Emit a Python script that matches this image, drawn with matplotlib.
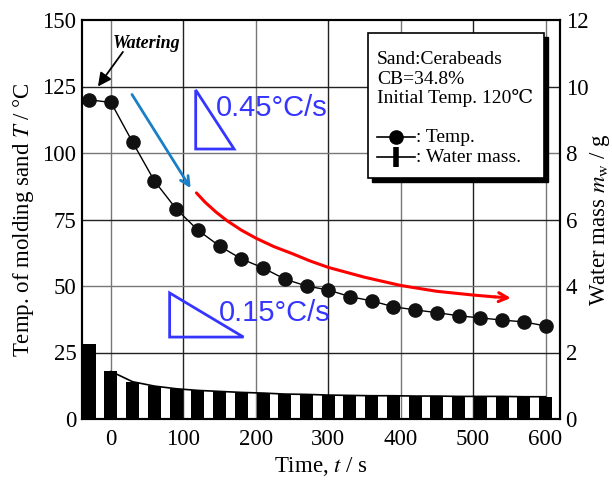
import matplotlib
matplotlib.use('Agg')
import matplotlib.pyplot as plt
from matplotlib.patches import Rectangle, Polygon
from matplotlib.lines import Line2D

# ---- data ----
time_s = [-30, 0, 30, 60, 90, 120, 150, 180, 210, 240, 270, 300,
          330, 360, 390, 420, 450, 480, 510, 540, 570, 600]
temp_c = [120, 119, 104, 89.5, 79, 71, 65, 60.2, 56.8, 52.6, 50, 48.5,
          46, 44.4, 42.2, 41, 40, 38.8, 38, 37.2, 36.5, 35]
water_g = [2.26, 1.43, 1.12, 0.99, 0.91, 0.86, 0.83, 0.80, 0.78, 0.75, 0.74,
           0.72, 0.71, 0.70, 0.70, 0.69, 0.69, 0.68, 0.68, 0.68, 0.67, 0.67]
x_ticks = [0, 100, 200, 300, 400, 500, 600]
temp_ticks = [0, 25, 50, 75, 100, 125, 150]
mass_ticks = [0, 2, 4, 6, 8, 10, 12]

red_t = [118, 130, 145, 160, 180, 200, 225, 250, 275, 300, 350, 400, 450, 500, 530, 552]
red_T = [85, 81.5, 77.8, 74.6, 71, 68, 64.8, 62.2, 59.4, 57, 53.3, 50.2, 48, 46.6, 45.9, 45.5]
blue_start = (29, 122)
blue_end = (110, 86.8)
tri1 = [(117, 123.7), (117, 101.5), (170, 101.5)]
tri2 = [(81, 47.4), (81, 30.8), (183, 30.8)]

serif = ['Liberation Serif', 'DejaVu Serif']
plt.rcParams['font.family'] = serif
plt.rcParams['mathtext.fontset'] = 'stix'

fig = plt.figure(figsize=(6.12, 4.8), dpi=100)
ax = fig.add_axes([82/612, 61/480, 478/612, 399/480])
ax2 = ax.twinx()

ax.set_xlim(-40, 620)
ax.set_ylim(0, 150)
ax2.set_ylim(0, 12)
ax.set_xticks(x_ticks)
ax.set_yticks(temp_ticks)
ax2.set_yticks(mass_ticks)

for a in (ax, ax2):
    for s in a.spines.values():
        s.set_linewidth(1.5)
ax.tick_params(axis='both', length=0, labelsize=16.5)
ax.tick_params(axis='y', pad=4)
ax.tick_params(axis='x', pad=7)
ax2.tick_params(axis='y', length=0, labelsize=16.5, pad=4)

# grid
for i, xv in enumerate(x_ticks):
    ax.axvline(xv, color='#222222' if i % 2 else '#777777', lw=1.0, zorder=0.5)
for i, yv in enumerate(temp_ticks[1:-1]):
    ax.axhline(yv, color='#222222' if i % 2 == 0 else '#777777', lw=1.0, zorder=0.5)

# water mass bars + line
ax2.bar(time_s, water_g, width=18, color='black', zorder=2)
ax2.plot(time_s[1:], water_g[1:], color='black', lw=1.2, zorder=2)

# temperature
ax.plot(time_s, temp_c, color='black', lw=1.0, marker='o', ms=9.5,
        mfc='#111111', mec='#111111', zorder=3)

# blue arrow
ax.annotate('', xy=blue_end, xytext=blue_start,
            arrowprops=dict(arrowstyle='->', color='#1a7fc4', lw=2,
                            mutation_scale=16, shrinkA=0, shrinkB=0))
# red arrow
ax.plot(red_t[:-1], red_T[:-1], color='red', lw=2.2, zorder=2.5,
        solid_capstyle='round', solid_joinstyle='round')
ax.annotate('', xy=(red_t[-1], red_T[-1]), xytext=(red_t[-2], red_T[-2]),
            arrowprops=dict(arrowstyle='->', color='red', lw=2.2,
                            mutation_scale=16, shrinkA=0, shrinkB=0))

# triangles and slope labels
ax.add_patch(Polygon(tri1, closed=True, fill=False, edgecolor='#3535ff', lw=2, zorder=4))
ax.add_patch(Polygon(tri2, closed=True, fill=False, edgecolor='#3535ff', lw=2, zorder=4))
ax.text(145, 117, '0.45°C/s', ha='left', va='center', fontsize=21,
        color='#3535ff', family=['Liberation Sans', 'DejaVu Sans'], zorder=5)
ax.text(149, 40, '0.15°C/s', ha='left', va='center', fontsize=21,
        color='#3535ff', family=['Liberation Sans', 'DejaVu Sans'], zorder=5)

# watering
ax.text(3, 141, 'Watering', ha='left', va='center', fontsize=13,
        fontweight='bold', style='italic')
ax.annotate('', xy=(-18, 125), xytext=(16.5, 138),
            arrowprops=dict(arrowstyle='-|>', color='black', lw=1.3,
                            mutation_scale=20, shrinkA=0, shrinkB=0))

# labels
ax.set_ylabel('Temp. of molding sand $T$ / °C', fontsize=16.5)
ax.yaxis.set_label_coords((24 - 82) / 478, 0.5)
ax.yaxis.label.set_va('center')
ax2.set_ylabel('Water mass $m_{\\mathrm{w}}$ / g', fontsize=16.5)
ax2.yaxis.set_label_coords((600 - 82) / 478, 0.5)
ax2.yaxis.label.set_va('center')
ax.set_xlabel('Time, $t$ / s', fontsize=16.5, labelpad=4)

# legend box
W, H = 612, 480
def fx(px):
    return px / W
def fy(py):
    return 1 - py / H
bx0, by0, bx1, by1 = 368, 33, 544, 178
fig.patches.append(Rectangle((fx(bx0 + 4), fy(by1 + 4)), fx(bx1 - bx0), (by1 - by0) / H,
                             transform=fig.transFigure, facecolor='black',
                             edgecolor='black', zorder=10))
fig.patches.append(Rectangle((fx(bx0), fy(by1)), fx(bx1 - bx0), (by1 - by0) / H,
                             transform=fig.transFigure, facecolor='white',
                             edgecolor='black', lw=1.2, zorder=11))
for txt, py in [('Sand:Cerabeads', 59), ('CB=34.8%', 79), ('Initial Temp. 120℃', 98)]:
    fig.text(fx(377), fy(py), txt, ha='left', va='center', fontsize=14, zorder=12)
fig.add_artist(Line2D([fx(377), fx(415)], [fy(137), fy(137)], transform=fig.transFigure,
                      color='black', lw=1.2, zorder=12))
fig.add_artist(Line2D([fx(396)], [fy(137)], transform=fig.transFigure, marker='o',
                      ms=9.5, color='black', zorder=12))
fig.add_artist(Line2D([fx(377), fx(415)], [fy(157), fy(157)], transform=fig.transFigure,
                      color='black', lw=1.2, zorder=12))
fig.add_artist(Line2D([fx(396)], [fy(157)], transform=fig.transFigure, marker='|',
                      ms=15, mew=4, color='black', zorder=12))
fig.text(fx(416), fy(137), ': Temp.', ha='left', va='center', fontsize=14, zorder=12)
fig.text(fx(416), fy(157), ': Water mass.', ha='left', va='center', fontsize=14, zorder=12)

fig.savefig('out.png', dpi=100)
